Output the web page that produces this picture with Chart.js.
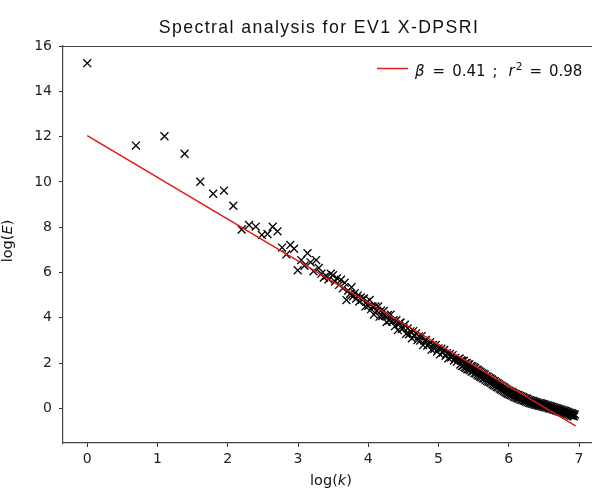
<!DOCTYPE html>
<html>
<head>
<meta charset="utf-8">
<script src="https://cdn.jsdelivr.net/npm/chart.js@4/dist/chart.umd.min.js"></script>
<style>
html,body{margin:0;padding:0;overflow:hidden;background:#fff;}
</style>
</head>
<body>
<canvas id="c" width="592" height="490"></canvas>
<script>
// ---- data ----
const chartTitle = "Spectral analysis for EV1 X-DPSRI";
const xTicks = [0, 1, 2, 3, 4, 5, 6, 7];
const yTicks = [0, 2, 4, 6, 8, 10, 12, 14, 16];

// log(k) values of the scatter points
const logK = [
 0, 0.693, 1.099, 1.386, 1.609, 1.792, 1.946, 2.079, 2.197, 2.303,
 2.398, 2.485, 2.565, 2.639, 2.708, 2.773, 2.833, 2.890, 2.944, 2.996,
 3.045, 3.091, 3.135, 3.178, 3.219, 3.258, 3.296, 3.332, 3.367, 3.401,
 3.434, 3.466, 3.497, 3.526, 3.555, 3.584, 3.611, 3.638, 3.664, 3.689,
 3.714, 3.738, 3.761, 3.784, 3.807, 3.829, 3.850, 3.871, 3.892, 3.912,
 3.94, 3.96, 3.98, 4.00, 4.02, 4.04, 4.06, 4.08, 4.10, 4.12,
 4.14, 4.16, 4.18, 4.20, 4.22, 4.24, 4.26, 4.28, 4.30, 4.32,
 4.34, 4.36, 4.38, 4.40, 4.42, 4.44, 4.46, 4.48, 4.50, 4.52,
 4.54, 4.56, 4.58, 4.60, 4.62, 4.64, 4.66, 4.68, 4.70, 4.72,
 4.74, 4.76, 4.78, 4.80, 4.82, 4.84, 4.86, 4.88, 4.90, 4.92,
 4.94, 4.96, 4.98, 5.00, 5.02, 5.04, 5.06, 5.08, 5.10, 5.12,
 5.14, 5.16, 5.18, 5.20, 5.22, 5.24, 5.26, 5.28,
 5.30, 5.31, 5.32, 5.33, 5.34, 5.35, 5.36, 5.37, 5.38, 5.39,
 5.40, 5.41, 5.42, 5.43, 5.44, 5.45, 5.46, 5.47, 5.48, 5.49,
 5.50, 5.51, 5.52, 5.53, 5.54, 5.55, 5.56, 5.57, 5.58, 5.59,
 5.60, 5.61, 5.62, 5.63, 5.64, 5.65, 5.66, 5.67, 5.68, 5.69,
 5.70, 5.71, 5.72, 5.73, 5.74, 5.75, 5.76, 5.77, 5.78, 5.79,
 5.80, 5.81, 5.82, 5.83, 5.84, 5.85, 5.86, 5.87, 5.88, 5.89,
 5.90, 5.91, 5.92, 5.93, 5.94, 5.95, 5.96, 5.97, 5.98, 5.99,
 6.00, 6.01, 6.02, 6.03, 6.04, 6.05, 6.06, 6.07, 6.08, 6.09,
 6.10, 6.11, 6.12, 6.13, 6.14, 6.15, 6.16, 6.17, 6.18, 6.19,
 6.20, 6.21, 6.22, 6.23, 6.24, 6.25, 6.26, 6.27, 6.28, 6.29,
 6.30, 6.31, 6.32, 6.33, 6.34, 6.35, 6.36, 6.37, 6.38, 6.39,
 6.40, 6.41, 6.42, 6.43, 6.44, 6.45, 6.46, 6.47, 6.48, 6.49,
 6.50, 6.51, 6.52, 6.53, 6.54, 6.55, 6.56, 6.57, 6.58, 6.59,
 6.60, 6.61, 6.62, 6.63, 6.64, 6.65, 6.66, 6.67, 6.68, 6.69,
 6.70, 6.71, 6.72, 6.73, 6.74, 6.75, 6.76, 6.77, 6.78, 6.79,
 6.80, 6.81, 6.82, 6.83, 6.84, 6.85, 6.86, 6.87, 6.88, 6.89,
 6.90, 6.91, 6.92, 6.93, 6.94
];
// log(E) values of the scatter points
const logE = [
 15.25, 11.61, 12.02, 11.25, 10.01, 9.48, 9.62, 8.95, 7.90, 8.10,
 8.03, 7.66, 7.70, 8.02, 7.82, 7.10, 6.80, 7.22, 7.05, 6.10,
 6.55, 6.30, 6.85, 6.45, 6.05, 6.55, 6.20, 5.95, 5.78, 5.85,
 5.70, 5.95, 5.88, 5.60, 5.75, 5.45, 5.68, 5.30, 5.55, 4.78,
 5.20, 5.05, 5.35, 4.95, 5.08, 4.85, 4.98, 4.72, 4.90, 4.80,
 4.86, 4.50, 4.70, 4.53, 4.79, 4.38, 4.50, 4.14, 4.50, 4.31,
 4.50, 4.05, 4.31, 4.07, 4.30, 4.09, 3.81, 4.12, 3.88, 4.14,
 3.84, 3.89, 3.63, 3.89, 3.45, 3.75, 3.79, 3.51, 3.55, 3.69,
 3.29, 3.53, 3.27, 3.40, 3.09, 3.41, 3.19, 3.31, 3.01, 3.18,
 2.99, 3.19, 2.79, 2.99, 3.02, 2.77, 2.81, 2.92, 2.59, 2.80,
 2.63, 2.80, 2.51, 2.65, 2.38, 2.63, 2.46, 2.58, 2.32, 2.44,
 2.21, 2.40, 2.24, 2.35, 2.11, 2.23, 2.06, 2.17,
 2.20, 1.93, 2.11, 1.86, 2.10, 1.88, 2.09, 1.81, 1.99, 1.78,
 2.00, 1.72, 1.94, 1.72, 1.94, 1.69, 1.86, 1.62, 1.86, 1.63,
 1.81, 1.55, 1.78, 1.54, 1.71, 1.48, 1.69, 1.45, 1.64, 1.40,
 1.60, 1.37, 1.55, 1.32, 1.52, 1.31, 1.49, 1.26, 1.42, 1.21,
 1.39, 1.18, 1.34, 1.15, 1.32, 1.12, 1.27, 1.06, 1.22, 1.03,
 1.19, 0.99, 1.14, 0.94, 1.11, 0.92, 1.07, 0.87, 1.02, 0.83,
 0.98, 0.79, 0.94, 0.76, 0.91, 0.72, 0.86, 0.67, 0.81, 0.64,
 0.78, 0.61, 0.74, 0.58, 0.72, 0.56, 0.69, 0.52, 0.65, 0.49,
 0.62, 0.46, 0.59, 0.44, 0.58, 0.42, 0.54, 0.38, 0.52, 0.37,
 0.49, 0.34, 0.46, 0.32, 0.44, 0.30, 0.42, 0.27, 0.38, 0.24,
 0.36, 0.22, 0.34, 0.21, 0.33, 0.19, 0.30, 0.16, 0.28, 0.15,
 0.26, 0.13, 0.23, 0.12, 0.23, 0.11, 0.21, 0.09, 0.19, 0.07,
 0.18, 0.05, 0.15, 0.04, 0.14, 0.03, 0.12, 0.00, 0.10, -0.01,
 0.08, -0.03, 0.06, -0.05, 0.04, -0.07, 0.02, -0.09, 0.00, -0.11,
 -0.02, -0.13, -0.04, -0.15, -0.06, -0.17, -0.08, -0.19, -0.10, -0.21,
 -0.12, -0.23, -0.14, -0.25, -0.16, -0.27, -0.19, -0.30, -0.21, -0.32,
 -0.23, -0.34, -0.25, -0.36, -0.28
];
// fitted power-law line (endpoints)
const fitX = [0, 6.95];
const fitY = [12.05, -0.78];
// legend pieces: beta, value, r, exponent, value
const legendParts = ["β", "=", "0.41", ";", "r", "2", "=", "0.98"];

// ---- chart ----
const scatterPts = logK.map((x, i) => ({x: x, y: logE[i]}));
const fitPts = fitX.map((x, i) => ({x: x, y: fitY[i]}));

function drawParts(ctx, parts, x, y, align) {
  let w = 0;
  parts.forEach(p => { ctx.font = p.font; p.w = ctx.measureText(p.t).width + (p.gap || 0); w += p.w; });
  let cx = align === 'center' ? x - w / 2 : x;
  ctx.textAlign = 'left';
  parts.forEach(p => { ctx.font = p.font; ctx.fillText(p.t, cx, y + (p.dy || 0)); cx += p.w; });
}

const decor = {
  id: 'decor',
  afterDraw(chart) {
    const ctx = chart.ctx, a = chart.chartArea;
    ctx.save();
    // top spine
    ctx.strokeStyle = '#444';
    ctx.lineWidth = 1.2;
    ctx.beginPath();
    ctx.moveTo(a.left, a.top + 0.5);
    ctx.lineTo(chart.width, a.top + 0.5);
    ctx.stroke();
    // title
    ctx.fillStyle = '#111';
    ctx.font = '17.7px "Liberation Sans", Arial, sans-serif';
    if ('letterSpacing' in ctx) ctx.letterSpacing = '1.4px';
    ctx.textAlign = 'center';
    ctx.textBaseline = 'alphabetic';
    ctx.fillText(chartTitle, 319, 33);
    if ('letterSpacing' in ctx) ctx.letterSpacing = '0px';
    // axis titles
    const nf = '14.5px "DejaVu Sans"', itf = 'italic 14.5px "DejaVu Sans"';
    drawParts(ctx, [{t: 'log(', font: nf}, {t: 'k', font: itf}, {t: ')', font: nf}], 331, 485, 'center');
    ctx.save();
    ctx.translate(12, 241);
    ctx.rotate(-Math.PI / 2);
    drawParts(ctx, [{t: 'log(', font: nf}, {t: 'E', font: itf}, {t: ')', font: nf}], 0, 0, 'center');
    ctx.restore();
    // legend
    ctx.strokeStyle = '#e02020';
    ctx.lineWidth = 1.5;
    ctx.beginPath();
    ctx.moveTo(377, 68.5);
    ctx.lineTo(408, 68.5);
    ctx.stroke();
    const lf = '15px "DejaVu Sans"', lif = 'italic 15px "DejaVu Sans"', ls = '10.5px "DejaVu Sans"';
    ctx.fillStyle = '#111';
    drawParts(ctx, [
      {t: legendParts[0], font: lif, gap: 8},
      {t: legendParts[1], font: lf, gap: 7},
      {t: legendParts[2], font: lf, gap: 7},
      {t: legendParts[3], font: lf, gap: 11},
      {t: legendParts[4], font: lif, gap: 1},
      {t: legendParts[5], font: ls, dy: -6, gap: 7},
      {t: legendParts[6], font: lf, gap: 7},
      {t: legendParts[7], font: lf}
    ], 415, 76, 'left');
    ctx.restore();
  }
};

Chart.defaults.font.family = '"DejaVu Sans"';
Chart.defaults.color = '#222';

new Chart(document.getElementById('c'), {
  type: 'scatter',
  data: {
    datasets: [
      {
        type: 'line',
        label: 'fit',
        data: fitPts,
        borderColor: '#e01818',
        borderWidth: 1.5,
        pointRadius: 0,
        fill: false,
        tension: 0
      },
      {
        label: 'data',
        data: scatterPts,
        pointStyle: 'crossRot',
        pointRadius: 5.6,
        pointHoverRadius: 5.6,
        borderColor: '#000',
        backgroundColor: 'rgba(0,0,0,0)',
        borderWidth: 1.3
      }
    ]
  },
  options: {
    responsive: false,
    animation: false,
    devicePixelRatio: 1,
    layout: {autoPadding: false, padding: {top: 46, right: 0, bottom: 0, left: 0}},
    plugins: {legend: {display: false}, tooltip: {enabled: false}, title: {display: false}},
    scales: {
      x: {
        type: 'linear',
        min: -0.345,
        max: 7.184,
        afterBuildTicks: s => { s.ticks = xTicks.map(v => ({value: v})); },
        afterFit: s => { s.height = 47; },
        ticks: {font: {size: 14}, color: '#222', padding: 4, maxRotation: 0},
        grid: {display: true, drawOnChartArea: false, drawTicks: true, tickLength: 4, tickColor: '#333'},
        border: {display: true, color: '#444', width: 1.2}
      },
      y: {
        type: 'linear',
        min: -1.535,
        max: 16.01,
        afterBuildTicks: s => { s.ticks = yTicks.map(v => ({value: v})); },
        afterFit: s => { s.width = 63; },
        ticks: {font: {size: 14}, color: '#222', padding: 7},
        grid: {display: true, drawOnChartArea: false, drawTicks: true, tickLength: 4, tickColor: '#333'},
        border: {display: true, color: '#444', width: 1.2}
      }
    }
  },
  plugins: [decor]
});
</script>
</body>
</html>
